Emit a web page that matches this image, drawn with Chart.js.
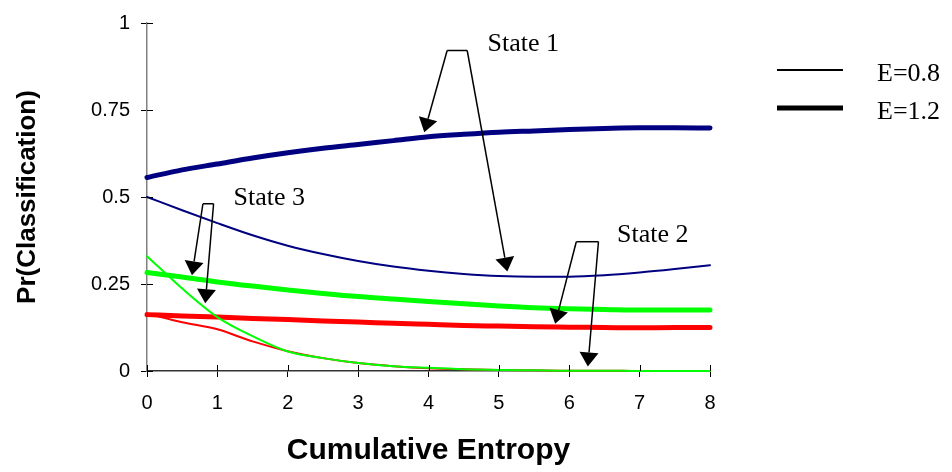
<!DOCTYPE html>
<html>
<head>
<meta charset="utf-8">
<script src="https://cdn.jsdelivr.net/npm/chart.js@4"></script>
<style>
  body { margin: 0; background: #fff; }
  #wrap { width: 952px; height: 472px; }
</style>
</head>
<body>
<div id="wrap"><canvas id="chart" width="952" height="472"></canvas></div>
<script>
// Abscisses (entropie cumulée) et courbes
const xValues = [0, 0.5, 1, 1.5, 2, 2.5, 3, 3.5, 4, 4.5, 5, 5.5, 6, 6.5, 7, 7.5, 8];
const yTickValues = [0, 0.25, 0.5, 0.75, 1];

// State 1 (bleu marine)
const state1E12 = [0.556, 0.578, 0.595, 0.612, 0.627, 0.640, 0.651, 0.662, 0.673, 0.680, 0.686, 0.690, 0.694, 0.697, 0.699, 0.699, 0.698];
const state1E08 = [0.500, 0.462, 0.425, 0.390, 0.360, 0.336, 0.316, 0.300, 0.288, 0.279, 0.273, 0.271, 0.271, 0.275, 0.283, 0.293, 0.304];
// State 3 (vert)
const state3E12 = [0.283, 0.270, 0.256, 0.244, 0.233, 0.223, 0.214, 0.207, 0.200, 0.193, 0.187, 0.182, 0.179, 0.177, 0.175, 0.175, 0.175];
const state3E08 = [0.330, 0.237, 0.155, 0.100, 0.056, 0.037, 0.023, 0.014, 0.009, 0.005, 0.003, 0.002, 0.001, 0.001, 0, 0, 0];
// State 2 (rouge)
const state2E12 = [0.162, 0.158, 0.155, 0.151, 0.148, 0.144, 0.141, 0.137, 0.134, 0.131, 0.129, 0.127, 0.126, 0.125, 0.124, 0.125, 0.125];
const state2E08 = [0.165, 0.140, 0.120, 0.085, 0.057, 0.037, 0.023, 0.014, 0.008, 0.005, 0.003, 0.002, 0.001, 0.001, 0, 0, 0];

const legendLabels = ["E=0.8", "E=1.2"];

// Annotations (coordonnées en unités des données)
const callouts = [
  { text: "State 1", textAt: [4.84, 0.94], bracket: [4.265, 4.55, 0.921], tips: [[3.94, 0.686], [5.12, 0.286]] },
  { text: "State 2", textAt: [6.68, 0.389], bracket: [6.10, 6.415, 0.3715], tips: [[5.80, 0.136], [6.264, 0.013]] },
  { text: "State 3", textAt: [1.23, 0.497], bracket: [0.795, 0.946, 0.4806], tips: [[0.639, 0.275], [0.828, 0.195]] },
];

const toPoints = (values) => values.map((v, i) => ({ x: xValues[i], y: v }));

function line(values, color, width) {
  return {
    data: toPoints(values),
    borderColor: color,
    borderWidth: width,
    borderCapStyle: "round",
    pointRadius: 0,
    fill: false,
    cubicInterpolationMode: "monotone",
    clip: false,
  };
}

// Flèche avec pointe pleine
function drawArrow(ctx, x1, y1, x2, y2) {
  const ang = Math.atan2(y2 - y1, x2 - x1);
  const len = 14, half = 9.5;
  const bx = x2 - len * Math.cos(ang), by = y2 - len * Math.sin(ang);
  ctx.beginPath();
  ctx.moveTo(x1, y1);
  ctx.lineTo(bx, by);
  ctx.stroke();
  ctx.beginPath();
  ctx.moveTo(x2, y2);
  ctx.lineTo(bx + half * Math.sin(ang), by - half * Math.cos(ang));
  ctx.lineTo(bx - half * Math.sin(ang), by + half * Math.cos(ang));
  ctx.closePath();
  ctx.fill();
}

const extrasPlugin = {
  id: "extras",
  afterDatasetsDraw(chart) {
    const { ctx, chartArea, scales: { x, y } } = chart;
    ctx.save();

    // petits traits de graduation côté intérieur
    ctx.strokeStyle = "#000";
    ctx.lineWidth = 1;
    y.ticks.forEach((t) => {
      const py = Math.round(y.getPixelForValue(t.value)) + 0.5;
      ctx.beginPath();
      ctx.moveTo(chartArea.left, py);
      ctx.lineTo(chartArea.left + 6, py);
      ctx.stroke();
    });
    x.ticks.forEach((t) => {
      const px = Math.round(x.getPixelForValue(t.value)) + 0.5;
      ctx.beginPath();
      ctx.moveTo(px, chartArea.bottom);
      ctx.lineTo(px, chartArea.bottom - 6);
      ctx.stroke();
    });

    // annotations
    ctx.strokeStyle = "#000";
    ctx.fillStyle = "#000";
    ctx.lineWidth = 1.5;
    ctx.font = "26px 'Liberation Serif'";
    ctx.textAlign = "left";
    ctx.textBaseline = "middle";
    callouts.forEach((c) => {
      const bx1 = x.getPixelForValue(c.bracket[0]);
      const bx2 = x.getPixelForValue(c.bracket[1]);
      const by = y.getPixelForValue(c.bracket[2]);
      ctx.beginPath();
      ctx.moveTo(bx1, by);
      ctx.lineTo(bx2, by);
      ctx.stroke();
      const t1 = c.tips[0], t2 = c.tips[1];
      drawArrow(ctx, bx1, by, x.getPixelForValue(t1[0]), y.getPixelForValue(t1[1]));
      drawArrow(ctx, bx2, by, x.getPixelForValue(t2[0]), y.getPixelForValue(t2[1]));
      ctx.fillText(c.text, x.getPixelForValue(c.textAt[0]), y.getPixelForValue(c.textAt[1]));
    });

    // légende
    const lx = chartArea.right + 67;
    const rows = [
      { label: legendLabels[0], width: 2, y: 70 },
      { label: legendLabels[1], width: 5, y: 108 },
    ];
    rows.forEach((r) => {
      ctx.lineWidth = r.width;
      ctx.lineCap = "butt";
      ctx.beginPath();
      ctx.moveTo(lx, r.y);
      ctx.lineTo(lx + 66, r.y);
      ctx.stroke();
      ctx.fillText(r.label, lx + 100, r.y + 4);
    });

    ctx.restore();
  },
};

const ctx = document.getElementById("chart").getContext("2d");
const chart = new Chart(ctx, {
  type: "line",
  data: {
    datasets: [
      line(state3E08, "#00ff00", 2),
      line(state2E08, "#ff0000", 2),
      line(state1E08, "#000080", 2),
      line(state2E12, "#ff0000", 5),
      line(state3E12, "#00ff00", 5),
      line(state1E12, "#000080", 5),
    ],
  },
  options: {
    responsive: false,
    animation: false,
    layout: { padding: { left: 0, top: 17, right: 242, bottom: 0 } },
    plugins: { legend: { display: false }, tooltip: { enabled: false } },
    scales: {
      x: {
        type: "linear",
        min: 0,
        max: 8,
        ticks: { stepSize: 1, padding: 14, color: "#000", font: { family: "'Liberation Sans'", size: 20 } },
        grid: { drawOnChartArea: false, tickLength: 6, color: "#000" },
        border: { color: "#333", width: 1.5 },
        title: {
          display: true,
          text: "Cumulative Entropy",
          color: "#000",
          font: { family: "'Liberation Sans'", size: 30, weight: "bold" },
          padding: { top: 0, bottom: 3 },
        },
        afterFit: (scale) => { scale.height = 101; },
      },
      y: {
        min: 0,
        max: 1,
        afterBuildTicks: (scale) => { scale.ticks = yTickValues.map((v) => ({ value: v })); },
        ticks: {
          padding: 11,
          color: "#000",
          font: { family: "'Liberation Sans'", size: 20 },
          callback: (v) => String(v),
        },
        grid: { drawOnChartArea: false, tickLength: 6, color: "#000" },
        border: { color: "#808080", width: 1.5 },
        title: {
          display: true,
          text: "Pr(Classification)",
          color: "#000",
          font: { family: "'Liberation Sans'", size: 26, weight: "bold" },
          padding: { top: 12, bottom: 0 },
        },
        afterFit: (scale) => { scale.width = 147; },
      },
    },
  },
  plugins: [extrasPlugin],
});
</script>
</body>
</html>
